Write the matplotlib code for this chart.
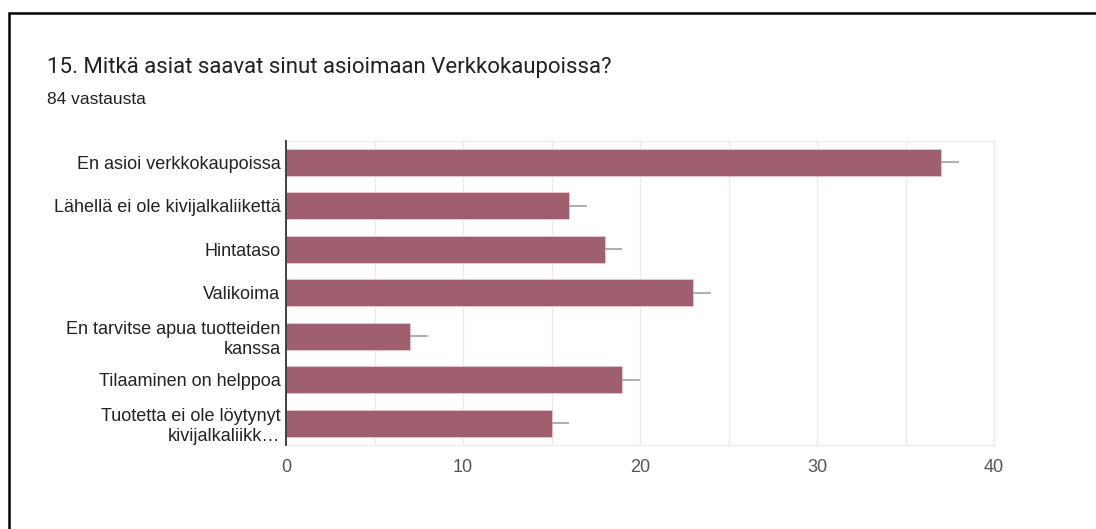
import matplotlib
matplotlib.use('Agg')
import matplotlib.pyplot as plt
from matplotlib.patches import Rectangle

matplotlib.rcParams['font.family'] = ['Liberation Sans', 'DejaVu Sans']

title = "15. Mitkä asiat saavat sinut asioimaan Verkkokaupoissa?"
subtitle = "84 vastausta"
categories = [
    "En asioi verkkokaupoissa",
    "Lähellä ei ole kivijalkaliikettä",
    "Hintataso",
    "Valikoima",
    "En tarvitse apua tuotteiden\nkanssa",
    "Tilaaminen on helppoa",
    "Tuotetta ei ole löytynyt\nkivijalkaliikk…",
]
counts = [37, 16, 18, 23, 7, 19, 15]
x_ticks = [0, 10, 20, 30, 40]

W, H = 1096, 529
fig = plt.figure(figsize=(W / 100, H / 100), dpi=100)

# card outline, only its top and left edges fall inside the image
fig.add_artist(Rectangle((9 / W, -0.1), 2, 1 - 13 / H + 0.1, transform=fig.transFigure,
                         fill=False, edgecolor='black', linewidth=1.8))

fig.text(47 / W, 1 - 67 / H, title, fontsize=16, color='#202124',
         family=['Roboto', 'DejaVu Sans'], va='center', ha='left')
fig.text(47 / W, 1 - 99 / H, subtitle, fontsize=12.5, color='#202124',
         family=['Liberation Sans', 'DejaVu Sans'], va='center', ha='left')

ax = fig.add_axes([286 / W, 1 - 445 / H, (994 - 286) / W, (445 - 140.75) / H])

y = list(range(len(categories)))
ax.barh(y, counts, height=0.62, color='#a05f6e', edgecolor='#e8c8d0', linewidth=0.6,
        xerr=[[0] * len(counts), [1] * len(counts)], ecolor='#a8a8a8',
        error_kw=dict(elinewidth=1.3, capsize=0), zorder=3)

ax.set_xlim(0, 40)
ax.set_ylim(len(categories) - 0.5, -0.5)
ax.set_yticks(y)
ax.set_yticklabels(categories, fontsize=13, color='#222222', linespacing=1.2)
ax.set_xticks(x_ticks)
ax.set_xticklabels([str(t) for t in x_ticks], fontsize=13, color='#555555')
ax.set_xticks(range(0, 41, 5), minor=True)
ax.grid(axis='x', which='both', color='#ebebeb', linewidth=1, zorder=0)
ax.tick_params(axis='both', which='both', length=0)
ax.tick_params(axis='x', pad=10)
ax.tick_params(axis='y', pad=4)

for side in ['top', 'right', 'bottom']:
    ax.spines[side].set_color('#ebebeb')
    ax.spines[side].set_linewidth(1)
ax.spines['left'].set_color('#333333')
ax.spines['left'].set_linewidth(1.3)
ax.spines['left'].set_zorder(5)

fig.savefig('out.png', dpi=100)
